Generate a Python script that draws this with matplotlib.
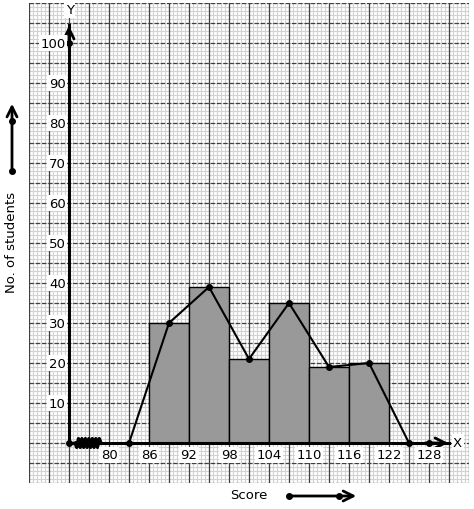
import matplotlib.pyplot as plt
import numpy as np

# class edges and frequencies
bin_edges = [86, 92, 98, 104, 110, 116, 122]
frequencies = [30, 39, 21, 35, 19, 20]

# frequency polygon points (class marks)
poly_x = [83, 89, 95, 101, 107, 113, 119, 125]
poly_y = [0, 30, 39, 21, 35, 19, 20, 0]

x_tick_labels = [80, 86, 92, 98, 104, 110, 116, 122, 128]
y_tick_labels = [10, 20, 30, 40, 50, 60, 70, 80, 90, 100]

x0 = 74  # origin on the x scale (axis broken)

fig = plt.figure(figsize=(4.74, 5.10), dpi=100)
ax = fig.add_axes([29 / 474, 26 / 510, 440 / 474, 480 / 510])
ax.set_xlim(68, 134)
ax.set_ylim(-10, 110)
ax.axis('off')

# graph paper
for x in np.arange(68, 134.01, 0.6):
    ax.axvline(x, color='#d2d2d2', lw=0.8, zorder=0)
for y in np.arange(-10, 110.01, 1):
    ax.axhline(y, color='#d2d2d2', lw=0.8, zorder=0)
for x in np.arange(68, 134.01, 3):
    ax.axvline(x, color='#404040', lw=0.9, zorder=1)
for y in np.arange(-10, 110.01, 5):
    ax.axhline(y, color='#404040', lw=0.9, ls=(0, (3.5, 1.5)), zorder=1)

# histogram
widths = np.diff(bin_edges)
ax.bar(bin_edges[:-1], frequencies, width=widths, align='edge',
       color='#999999', edgecolor='black', lw=1.0, zorder=3)

# axes
ax.plot([x0, x0], [0, 104.5], color='black', lw=2.2, zorder=4)
ax.plot([x0, 131], [0, 0], color='black', lw=2.2, zorder=4)
ax.annotate('', xy=(x0, 105), xytext=(x0, 100),
            arrowprops=dict(arrowstyle='->', lw=2, color='black',
                            mutation_scale=18), zorder=5)
ax.annotate('', xy=(131.3, 0), xytext=(127, 0),
            arrowprops=dict(arrowstyle='->', lw=2, color='black',
                            mutation_scale=18), zorder=5)
ax.plot([x0, x0, 128], [0, 100, 0], 'o', color='black', ms=4, zorder=6)

# zig-zag break
zx = np.linspace(74.9, 78.8, 16)
zy = np.array([1.1, -1.1] * 8)
zy[0] = 0
zy[-1] = 0
ax.plot(zx, zy, color='black', lw=2.4, zorder=5)

# frequency polygon
ax.plot(poly_x, poly_y, '-o', color='black', lw=1.5, ms=4, zorder=6)

# tick labels
bb = dict(facecolor='white', edgecolor='none', pad=1)
for v in x_tick_labels:
    ax.text(v, -3, str(v), ha='center', va='center', fontsize=9.5, bbox=bb, zorder=7)
for v in y_tick_labels:
    ax.text(x0 - 0.5, v, str(v), ha='right', va='center', fontsize=9.5, bbox=bb, zorder=7)
ax.text(132.3, 0.2, 'X', ha='center', va='center', fontsize=9.5, bbox=bb, zorder=7)
ax.text(x0 + 0.1, 108.3, 'Y', ha='center', va='center', fontsize=9.5, bbox=bb, zorder=7)

# outer labels and arrows
fig.text(12 / 474, 1 - 242 / 510, 'No. of students', rotation=90,
         ha='center', va='center', fontsize=9.5)
fig.text(249 / 474, 1 - 496 / 510, 'Score', ha='center', va='center', fontsize=9.5)

ax.annotate('', xy=(12, 510 - 102), xytext=(12, 510 - 172), xycoords='figure pixels',
            arrowprops=dict(arrowstyle='->', lw=2, color='black', mutation_scale=18))
ax.plot([12, 12], [510 - 172, 510 - 122], 'o', color='black', ms=4,
        transform=None, clip_on=False)
ax.annotate('', xy=(359, 510 - 497), xytext=(289, 510 - 497), xycoords='figure pixels',
            arrowprops=dict(arrowstyle='->', lw=2, color='black', mutation_scale=18))
ax.plot([289, 339], [510 - 497, 510 - 497], 'o', color='black', ms=4,
        transform=None, clip_on=False)

fig.savefig('out.png', dpi=100)
